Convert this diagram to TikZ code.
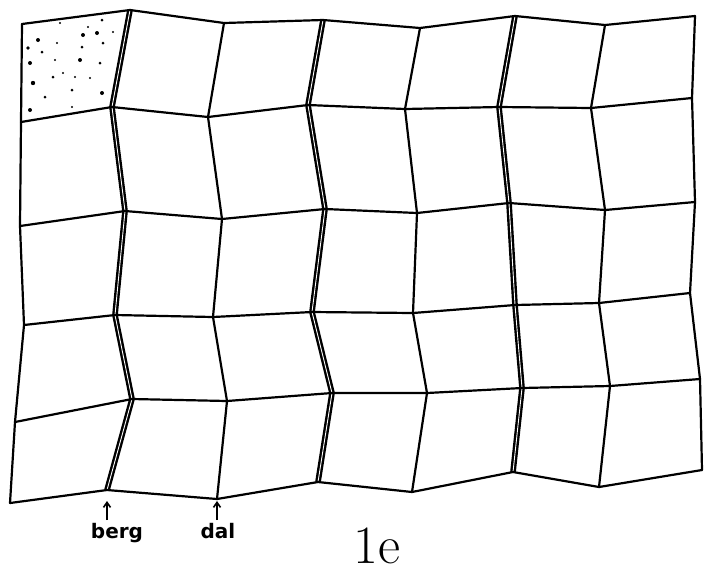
\documentclass[tikz,border=0pt]{standalone}
\usepackage{fontspec}
\newfontfamily\handfont{DejaVu Sans}
\usetikzlibrary{arrows.meta}
\begin{document}
\begin{tikzpicture}[x=1pt,y=-1pt,
  crease/.style={line width=2.2pt,line join=round,line cap=round},
  bergline/.style={line width=2.4pt,double,double distance=0.9pt,line join=round},
  stip/.style={fill=black},
  lbl/.style={font=\handfont\bfseries\fontsize{20}{20}\selectfont,anchor=base,inner sep=0pt},
  pointer/.style={line width=1.6pt,-{Straight Barb[length=5pt,width=7pt]}}]
\useasboundingbox (0,0) rectangle (711,574);
% grid vertices p<col><row>
\foreach \c/\x/\y/\r in {
 0/22/24/0,0/21/122/1,0/20/226/2,0/24/325/3,0/15/422/4,0/10/503/5,
 1/130/10/0,1/112/107/1,1/125/211/2,1/115/315/3,1/132/399/4,1/107/490/5,
 2/224/23/0,2/208/117/1,2/222/219/2,2/213/317/3,2/227/401/4,2/217/499/5,
 3/323/20/0,3/308/105/1,3/325/209/2,3/312/312/3,3/332/393/4,3/318/482/5,
 4/420/28/0,4/405/109/1,4/417/213/2,4/413/313/3,4/427/393/4,4/412/492/5,
 5/515/16/0,5/499/107/1,5/509/203/2,5/515/305/3,5/522/388/4,5/513/472/5,
 6/605/25/0,6/591/108/1,6/605/210/2,6/599/303/3,6/610/386/4,6/599/487/5,
 7/695/16/0,7/692/98/1,7/695/202/2,7/690/293/3,7/700/379/4,7/702/470/5}{
  \coordinate (p\c\r) at (\x,\y);
}
% mountain folds (berg)
\foreach \c in {1,3,5}{
  \draw[bergline] (p\c0) -- (p\c1) -- (p\c2) -- (p\c3) -- (p\c4) -- (p\c5);
}
% valley folds and outer edges
\foreach \c in {0,2,4,6,7}{
  \draw[crease] (p\c0) -- (p\c1) -- (p\c2) -- (p\c3) -- (p\c4) -- (p\c5);
}
% horizontal lines
\foreach \r in {0,...,5}{
  \draw[crease] (p0\r) -- (p1\r) -- (p2\r) -- (p3\r) -- (p4\r) -- (p5\r) -- (p6\r) -- (p7\r);
}
% stippled corner cell
\foreach \dx/\dy/\s in {38/40/2,42/52/1.5,57/43/1.2,83/35/2,97/33/2,102/20/1.5,82/47/1.5,80/60/2,100/63/1.5,30/63/2,33/83/2.2,53/77/1.5,63/73/1.2,72/90/1.5,45/97/1.5,30/110/2,72/107/1.2,102/93/2,113/32/1.2,103/43/1.5,88/27/1.2,60/23/1.2,75/77/1.2,28/48/1.8,90/78/1.2,55/60/1.2}{
  \fill[stip] (\dx,\dy) circle (\s);
}
% labels
\coordinate (bergtip) at (107,501);
\coordinate (bergtail) at (107,520);
\coordinate (daltip) at (217,501);
\coordinate (daltail) at (217,520);
\node[lbl] (berg) at (117,538) {berg};
\node[lbl] (dal) at (218,538) {dal};
\draw[pointer] (bergtail) -- (bergtip);
\draw[pointer] (daltail) -- (daltip);
\node[font=\fontsize{54}{54}\selectfont,anchor=base,inner sep=0pt] (fig) at (377,563) {1e};
\end{tikzpicture}
\end{document}
